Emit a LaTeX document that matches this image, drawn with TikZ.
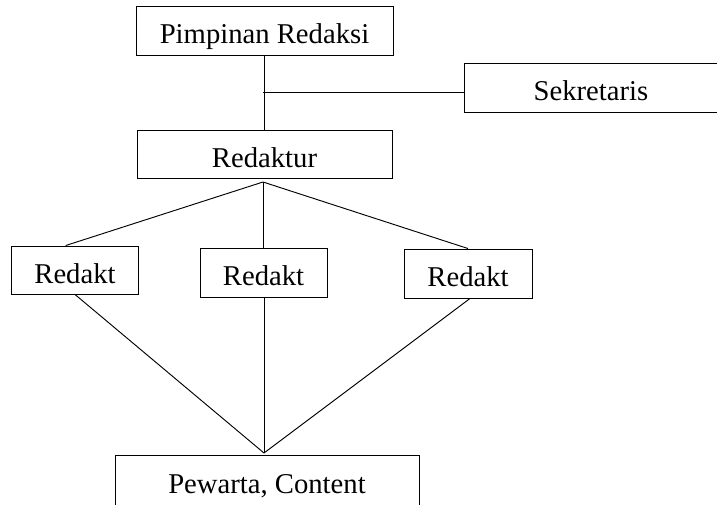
\documentclass[tikz,border=0pt]{standalone}
\usepackage{fontspec}
\setmainfont{Liberation Serif}
\usetikzlibrary{positioning}

\begin{document}
\begin{tikzpicture}[x=0.75pt, y=-0.75pt,
  every node/.style={rectangle, draw, line width=0.7pt, inner sep=0pt,
    text height=19.5pt, text depth=0pt, text centered,
    font=\fontsize{21.5}{26}\selectfont},
  link/.style={draw, line width=0.7pt}
]
\useasboundingbox (0,0) rectangle (717,504);

% top level
\node[minimum width=192.75pt, minimum height=36.75pt] (pimpinan) at (264.5,30.5) {Pimpinan Redaksi};
\node[minimum width=190.5pt, minimum height=36.75pt] (sekretaris) at (591,87.5) {Sekretaris};
\node[minimum width=191.25pt, minimum height=36pt] (redaktur) at (264.5,154) {Redaktur};

% redaktur pelaksana
\node[minimum width=95.25pt, minimum height=36pt] (redaktA) at (75,270) {Redakt};
\node[minimum width=95.25pt, minimum height=36.75pt] (redaktB) at (263.5,272.5) {Redakt};
\node[minimum width=96pt, minimum height=36.75pt] (redaktC) at (468,273.5) {Redakt};

% bottom box runs off the page
\node[minimum width=228pt, minimum height=42pt, text height=15pt] (pewarta) at (267,483) {Pewarta, Content};

\coordinate (split) at (263,182);
\coordinate (join) at (264,453);

\draw[link] (pimpinan.south) -- (redaktur.north);
\draw[link] (263,92) -- (sekretaris.west |- 263,92);

\draw[link] (split) -- ([xshift=-7pt]redaktA.north);
\draw[link] (split) -- (split |- redaktB.north);
\draw[link] (split) -- (redaktC.north);

\draw[link] (redaktA.south) -- (join);
\draw[link] (join |- redaktB.south) -- (join);
\draw[link] ([xshift=1.5pt]redaktC.south) -- (join);
\end{tikzpicture}
\end{document}
